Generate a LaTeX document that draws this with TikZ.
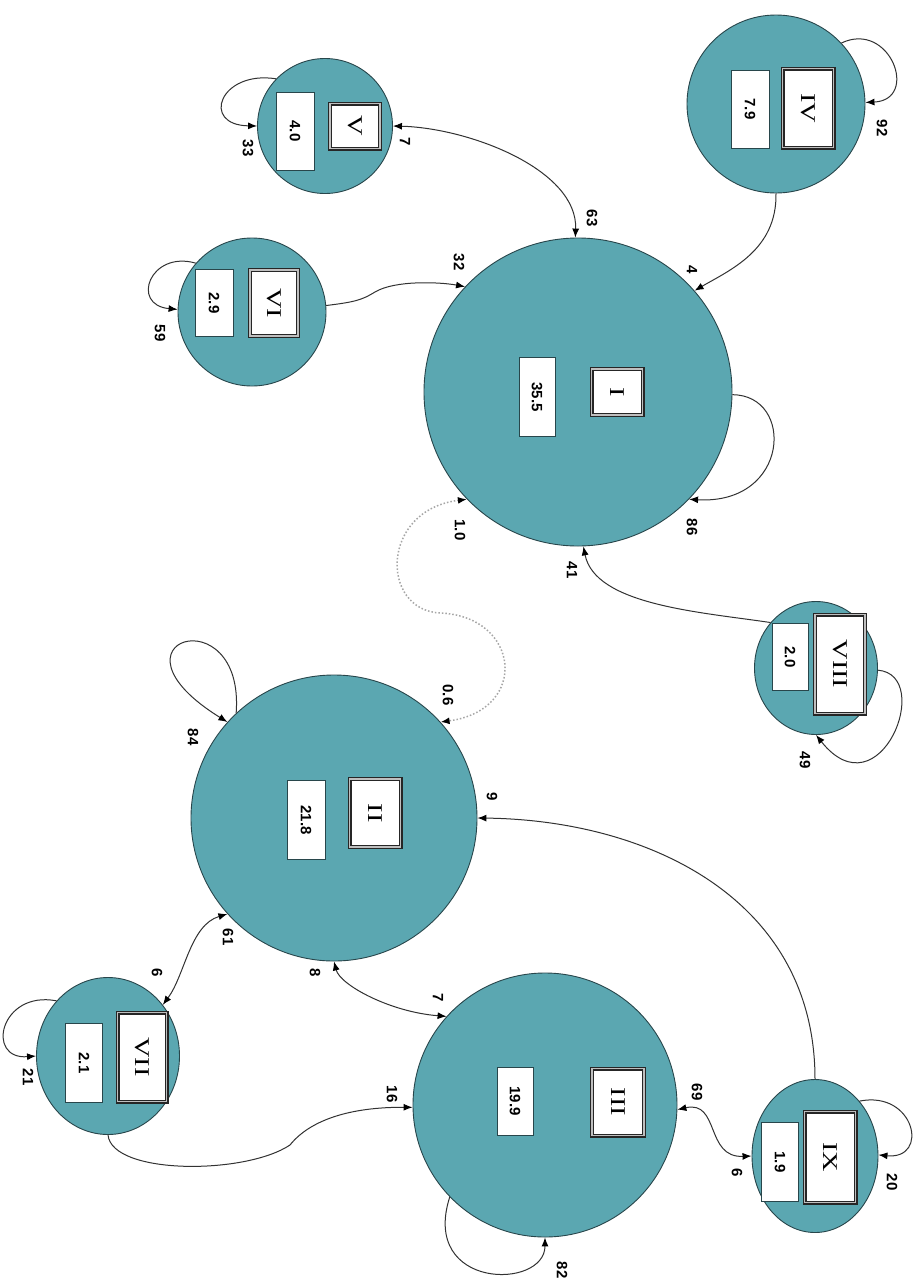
\documentclass[tikz,border=0pt]{standalone}
\usepackage{fontspec}
\setmainfont{Liberation Serif}
\newfontfamily\numfont{Liberation Sans}
\newfontfamily\romfont[FakeStretch=1.35]{Liberation Serif}
\usetikzlibrary{shapes.geometric,arrows.meta}
\definecolor{tealfill}{RGB}{91,167,177}
\definecolor{edgecol}{RGB}{50,50,50}
\definecolor{rimcol}{RGB}{40,70,75}
\begin{document}
\begin{tikzpicture}[x=1pt,y=-1pt,
  state/.style={circle, draw=rimcol, line width=0.9pt, fill=tealfill, inner sep=0pt},
  estate/.style={ellipse, draw=rimcol, line width=0.9pt, fill=tealfill, inner sep=0pt},
  valbox/.style={draw=rimcol, line width=0.9pt, fill=white, rotate=-90, inner sep=0pt,
     font=\numfont\bfseries\fontsize{15}{15}\selectfont},
  namebox/.style={draw=black!85, double=gray!50, double distance=1.8pt, line width=1.1pt,
     fill=white, rotate=-90, inner sep=0pt, font=\romfont\fontsize{21}{21}\selectfont},
  elab/.style={rotate=-90, inner sep=0pt, font=\numfont\bfseries\fontsize{15}{15}\selectfont},
  tip/.style={Latex[length=9pt,width=7pt,color=black]},
  conn/.style={draw=edgecol, line width=1pt, -{Latex[length=9pt,width=7pt,color=black]}},
  bconn/.style={draw=edgecol, line width=1pt, {Latex[length=9pt,width=7pt,color=black]}-{Latex[length=9pt,width=7pt,color=black]}},
  dconn/.style={draw=gray!70, dotted, line width=1.5pt,
     {Latex[length=9pt,width=7pt,color=black]}-{Latex[length=9pt,width=7pt,color=black]}}
]
\fill[white] (0,0) rectangle (920,1283);
\useasboundingbox (0,0) rectangle (920,1283);

% states
\node[state, minimum size=308pt] (I) at (578,392) {};
\node[state, minimum size=286pt] (II) at (334,818) {};
\node[state, minimum size=264pt] (III) at (545,1105) {};
\node[state, minimum size=178pt] (IV) at (776,104) {};
\node[state, minimum size=135pt] (V) at (325,126) {};
\node[state, minimum size=148pt] (VI) at (252,312) {};
\node[estate, minimum width=143pt, minimum height=157pt] (VII) at (108,1056) {};
\node[estate, minimum width=123pt, minimum height=133pt] (VIII) at (816,668) {};
\node[estate, minimum width=126pt, minimum height=153pt] (IX) at (815,1156) {};

% value boxes
\node[valbox, minimum width=79pt, minimum height=36pt] (vI) at (537,397) {35.5};
\node[valbox, minimum width=79pt, minimum height=38pt] (vII) at (306,820) {21.8};
\node[valbox, minimum width=68pt, minimum height=36pt] (vIII) at (515,1101) {19.9};
\node[valbox, minimum width=78pt, minimum height=38pt] (vIV) at (750,109) {7.9};
\node[valbox, minimum width=78pt, minimum height=38pt] (vV) at (295,131) {4.0};
\node[valbox, minimum width=67pt, minimum height=38pt] (vVI) at (214,303) {2.9};
\node[valbox, minimum width=79pt, minimum height=37pt] (vVII) at (84,1063) {2.1};
\node[valbox, minimum width=67pt, minimum height=36pt] (vVIII) at (790,657) {2.0};
\node[valbox, minimum width=79pt, minimum height=37pt] (vIX) at (780,1162) {1.9};

% name boxes
\node[namebox, minimum width=46pt, minimum height=51pt] (nI) at (617,392) {I};
\node[namebox, minimum width=68pt, minimum height=51pt] (nII) at (375,813) {II};
\node[namebox, minimum width=67pt, minimum height=52pt] (nIII) at (618,1102) {III};
\node[namebox, minimum width=79pt, minimum height=51pt] (nIV) at (808,108) {IV};
\node[namebox, minimum width=45pt, minimum height=50pt] (nV) at (355,126) {V};
\node[namebox, minimum width=66pt, minimum height=48pt] (nVI) at (274,303) {VI};
\node[namebox, minimum width=89pt, minimum height=49pt] (nVII) at (142,1057) {VII};
\node[namebox, minimum width=99pt, minimum height=50pt] (nVIII) at (840,664) {VIII};
\node[namebox, minimum width=91pt, minimum height=51pt] (nIX) at (830,1157) {IX};

% connectors
\draw[bconn] (V.0) .. controls (470,128) and (578,170) .. (I.91);
\draw[conn] (IV.-90) .. controls (777,250) and (730,270) .. (I.41);
\draw[conn] (VI.5) .. controls (355,302) and (362,300) .. (375,292) .. controls (395,280) and (440,282) .. (I.137);
\draw[conn] (I.-1) .. controls (795,395) and (790,505) .. (I.-44);
\draw[conn] (VIII.135) .. controls (700,612) and (595,605) .. (I.-88);
\draw[dconn] (I.-136) .. controls (380,510) and (380,610) .. (440,613) .. controls (520,616) and (530,710) .. (II.42);
\draw[conn] (VIII.-2) .. controls (935,675) and (880,815) .. (VIII.-90);
\draw[conn] (II.133) .. controls (245,595) and (95,640) .. (II.138);
\draw[conn] (IX.90) .. controls (815,900) and (650,820) .. (II.0);
\draw[bconn] (VII.43) .. controls (185,975) and (190,925) .. (II.222);
\draw[bconn] (II.-90) .. controls (340,985) and (390,1012) .. (III.138);
\draw[conn] (VII.-90) .. controls (112,1175) and (245,1175) .. (290,1145) .. controls (310,1120) and (350,1107) .. (III.181);
\draw[conn] (VII.133) .. controls (0,990) and (-15,1060) .. (VII.180);
\draw[conn] (III.224) .. controls (420,1290) and (545,1290) .. (III.-90);
\draw[bconn] (III.-2) .. controls (720,1100) and (705,1158) .. (IX.180);
\draw[conn] (IX.51) .. controls (915,1090) and (930,1160) .. (IX.1);
\draw[conn] (IV.43) .. controls (890,20) and (920,100) .. (IV.1);
\draw[conn] (V.136) .. controls (220,70) and (200,125) .. (V.180);
\draw[conn] (VI.139) .. controls (150,250) and (130,305) .. (VI.178);

% edge labels
\node[elab] (l1) at (405,142) {7};
\node[elab] (l2) at (592,218) {63};
\node[elab] (l3) at (692,270) {4};
\node[elab] (l4) at (459,262) {32};
\node[elab] (l5) at (692,527) {86};
\node[elab] (l6) at (460,530) {1.0};
\node[elab] (l7) at (572,570) {41};
\node[elab] (l8) at (448,695) {0.6};
\node[elab] (l9) at (193,737) {84};
\node[elab] (l10) at (492,797) {9};
\node[elab] (l11) at (228,937) {61};
\node[elab] (l12) at (315,973) {8};
\node[elab] (l13) at (438,998) {7};
\node[elab] (l14) at (392,1094) {16};
\node[elab] (l15) at (697,1092) {69};
\node[elab] (l16) at (562,1270) {82};
\node[elab] (l17) at (157,973) {6};
\node[elab] (l18) at (28,1077) {21};
\node[elab] (l19) at (737,1173) {6};
\node[elab] (l20) at (892,1182) {20};
\node[elab] (l21) at (882,128) {92};
\node[elab] (l22) at (248,148) {33};
\node[elab] (l23) at (160,333) {59};
\node[elab] (l24) at (805,760) {49};
\end{tikzpicture}
\end{document}
